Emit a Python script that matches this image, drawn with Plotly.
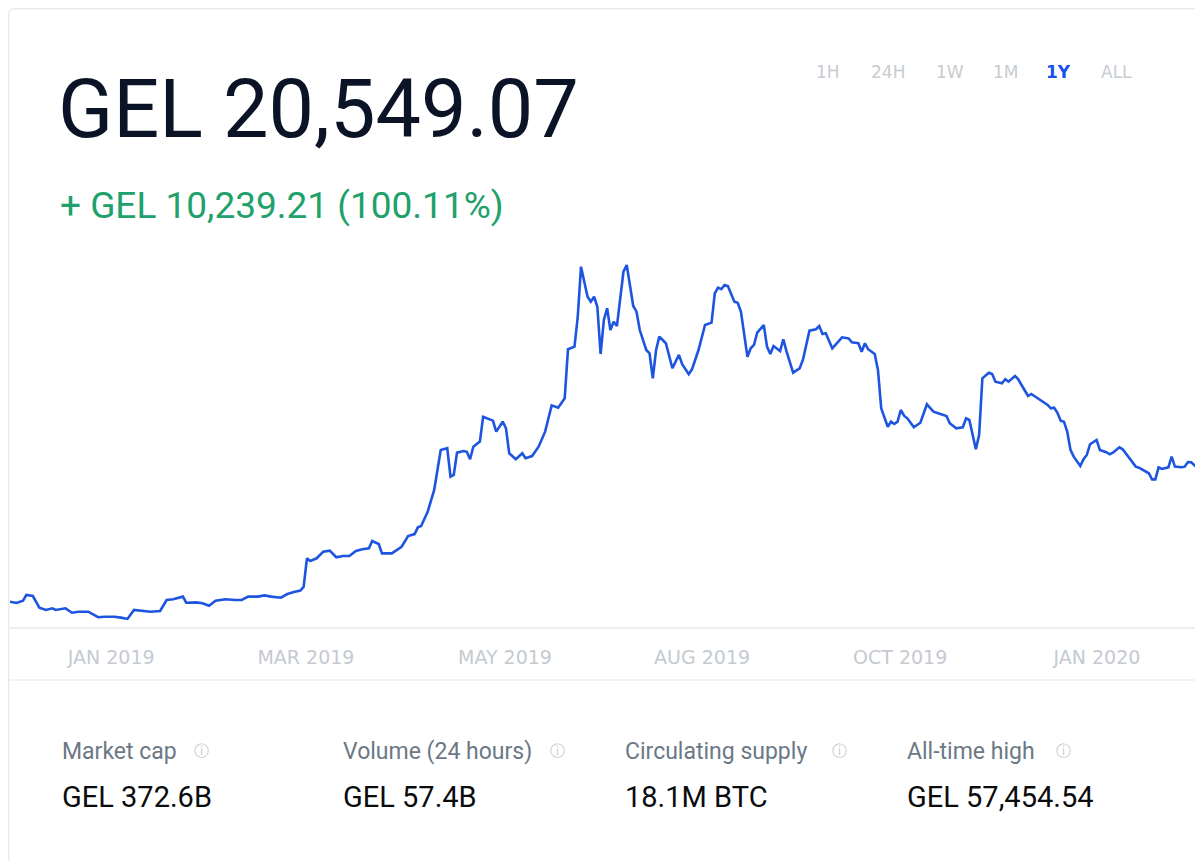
import plotly.graph_objects as go

# ---- data ----
days = [0, 2, 4, 5, 7, 9, 11, 13, 14, 17, 19, 21, 24, 27, 29, 32, 34, 36, 38, 41,
        43, 46, 48, 50, 53, 54, 57, 59, 61, 63, 66, 69, 71, 73, 76, 78, 80, 83, 85, 87,
        89, 90, 91, 92, 94, 96, 98, 100, 102, 104, 106, 108, 110, 111, 113, 114, 117, 120, 122, 124,
        125, 126, 128, 130, 131, 132, 134, 135, 136, 137, 139, 140, 141, 142, 144, 145, 148, 149, 151, 152,
        153, 155, 157, 158, 160, 162, 164, 166, 168, 170, 171, 173, 174, 175, 177, 178, 179, 180, 181, 182,
        183, 184, 185, 186, 188, 189, 191, 192, 193, 195, 196, 197, 198, 199, 201, 203, 205, 206, 208, 209,
        211, 213, 215, 216, 217, 218, 219, 220, 222, 223, 224, 226, 227, 228, 229, 231, 232, 233, 234, 236,
        237, 238, 240, 242, 243, 245, 247, 248, 249, 250, 252, 255, 257, 258, 260, 261, 262, 263, 265, 266,
        267, 268, 269, 270, 271, 272, 273, 274, 275, 277, 279, 281, 283, 284, 287, 288, 290, 292, 293, 294,
        296, 297, 298, 300, 301, 302, 304, 305, 306, 308, 309, 310, 312, 313, 315, 316, 318, 319, 320, 321,
        322, 323, 324, 325, 326, 328, 329, 330, 331, 333, 334, 336, 337, 338, 340, 341, 342, 344, 345, 346,
        348, 349, 350, 351, 352, 353, 355, 356, 357, 359, 360, 361, 362, 364, 365]

price_gel = [10309.86, 10210, 10390, 10830, 10750, 9850, 9670, 9800, 9670, 9800, 9460, 9540, 9540, 9110, 9150, 9150, 9080, 8980, 9670, 9590,
             9540, 9590, 10440, 10500, 10700, 10230, 10260, 10190, 10000, 10390, 10500, 10440, 10440, 10700, 10700, 10800, 10700, 10620, 10900, 11060,
             11170, 11470, 13660, 13450, 13660, 14170, 14250, 13740, 13840, 13840, 14220, 14350, 14430, 14990, 14760, 14040, 14040, 14550, 15380, 15530,
             16050, 16150, 17250, 18930, 20470, 22020, 22150, 19960, 20090, 21810, 21940, 21880, 21300, 22270, 22660, 24580, 24280, 23430, 24200, 23690,
             21760, 21300, 21760, 21380, 21550, 22270, 23430, 25460, 25280, 26000, 29790, 29990, 32300, 36160, 33840, 33460, 33840, 33070, 29420, 32050,
             32950, 31270, 31910, 31580, 35770, 36290, 33130, 32690, 31270, 29730, 29480, 27550, 29730, 30760, 30250, 28320, 29350, 28630, 27860, 28240,
             29730, 31660, 31840, 34110, 34540, 34420, 34750, 34670, 33460, 33380, 32690, 29210, 29860, 30120, 31070, 31660, 29990, 29420, 30040, 29650,
             30560, 29600, 27980, 28320, 28960, 31220, 31330, 31580, 30970, 31020, 29860, 30710, 30630, 30330, 30250, 29600, 30250, 29790, 29420, 28190,
             25230, 24460, 23810, 24200, 24020, 24200, 25100, 24660, 24460, 23770, 24120, 25540, 24970, 24890, 24640, 24080, 23690, 23770, 24460, 24330,
             22070, 23170, 27550, 27980, 27880, 27290, 27160, 27470, 27290, 27730, 27470, 27030, 26180, 26340, 26000, 25870, 25490, 25230, 25280, 24890,
             24280, 24200, 23430, 22020, 21500, 20780, 21300, 21630, 22460, 22790, 22020, 21840, 21680, 21810, 22220, 22070, 21710, 20990, 20730, 20650,
             20340, 20220, 19750, 19750, 20680, 20550, 20680, 21500, 20730, 20680, 20730, 21090, 21070, 20600, 20549.07]

tick_days = [31, 90.7, 151.7, 212.1, 272.8, 333.1]
tick_labels = ["JAN 2019", "MAR 2019", "MAY 2019", "AUG 2019", "OCT 2019", "JAN 2020"]

range_buttons = ["1H", "24H", "1W", "1M", "1Y", "ALL"]
active_button = "1Y"

price_now = "GEL 20,549.07"
price_change = "+ GEL 10,239.21 (100.11%)"

stat_labels = ["Market cap", "Volume (24 hours)", "Circulating supply", "All-time high"]
stat_values = ["GEL 372.6B", "GEL 57.4B", "18.1M BTC", "GEL 57,454.54"]

# ---- figure ----
# the page body adds an 8px margin, so the figure is made smaller and
# positions below are given in page pixels and shifted by that margin
OFF = 8
W, H = 1203 - OFF, 861 - OFF
FONT = "Roboto"


def px(x):
    return (x - OFF) / W


def py(y):
    return 1 - (y - OFF) / H


fig = go.Figure()
fig.add_trace(go.Scatter(
    x=days, y=price_gel, mode="lines",
    line=dict(color="#1d55e0", width=2.6, shape="linear"),
    hoverinfo="skip", showlegend=False,
))

fig.update_layout(
    width=W, height=H,
    margin=dict(l=0, r=0, t=0, b=0),
    paper_bgcolor="white", plot_bgcolor="white",
    xaxis=dict(
        domain=[px(10), px(1201)], range=[0, 365],
        showgrid=False, zeroline=False,
        showline=True, linecolor="#eceef1", linewidth=1.5,
        tickvals=tick_days, ticktext=tick_labels,
        ticks="outside", ticklen=12, tickcolor="rgba(0,0,0,0)",
        tickfont=dict(family="DejaVu Sans", size=19, color="#c5cad1"),
    ),
    yaxis=dict(
        domain=[py(627), py(250)], range=[8357.7, 37447],
        visible=False,
    ),
)

shapes = []
# card border (rounded top corners)
r = 6
L, R, T, B = 8.7, 1200.5, 8.7, 870
shapes.append(dict(
    type="path", xref="paper", yref="paper",
    path=(f"M {px(L)} {py(B)} L {px(L)} {py(T + r)} Q {px(L)} {py(T)} {px(L + r)} {py(T)} "
          f"L {px(R - r)} {py(T)} Q {px(R)} {py(T)} {px(R)} {py(T + r)} L {px(R)} {py(B)}"),
    line=dict(color="#e6e8eb", width=1.2),
))
# lower separator under the tick labels
shapes.append(dict(type="line", xref="paper", yref="paper",
                   x0=px(L), x1=px(R), y0=py(680), y1=py(680),
                   line=dict(color="#eceef1", width=1.5)))
fig.update_layout(shapes=shapes)

ann = []
ann.append(dict(text=price_now, x=px(56), y=py(109), xref="paper", yref="paper",
                xanchor="left", yanchor="middle", showarrow=False,
                font=dict(family=FONT, size=81, color="#0b1426")))
ann.append(dict(text=price_change, x=px(58), y=py(205), xref="paper", yref="paper",
                xanchor="left", yanchor="middle", showarrow=False,
                font=dict(family=FONT, size=37, color="#20a16b")))

button_x = [828, 888, 950, 1005, 1058, 1116]
for label, bx in zip(range_buttons, button_x):
    active = label == active_button
    ann.append(dict(text=label, x=px(bx), y=py(72), xref="paper", yref="paper",
                    xanchor="center", yanchor="middle", showarrow=False,
                    font=dict(family="DejaVu Sans", size=17,
                              color="#1652f0" if active else "#c7ccd2",
                              weight=700 if active else 400)))

col_x = [62, 343, 625, 907]
icon_x = [201, 557, 840, 1063]
for lab, val, cx, ix in zip(stat_labels, stat_values, col_x, icon_x):
    ann.append(dict(text=lab, x=px(cx - 2), y=py(751), xref="paper", yref="paper",
                    xanchor="left", yanchor="middle", showarrow=False,
                    font=dict(family=FONT, size=23, color="#6b7886")))
    ann.append(dict(text="ⓘ", x=px(ix), y=py(751), xref="paper", yref="paper",
                    xanchor="center", yanchor="middle", showarrow=False,
                    font=dict(family="DejaVu Sans", size=15, color="#c5cad1")))
    ann.append(dict(text=val, x=px(cx - 2), y=py(797), xref="paper", yref="paper",
                    xanchor="left", yanchor="middle", showarrow=False,
                    font=dict(family=FONT, size=29, color="#0a0b0d")))

fig.update_layout(annotations=ann)

fig.write_html("out.html", include_plotlyjs=True, config={"displayModeBar": False})
